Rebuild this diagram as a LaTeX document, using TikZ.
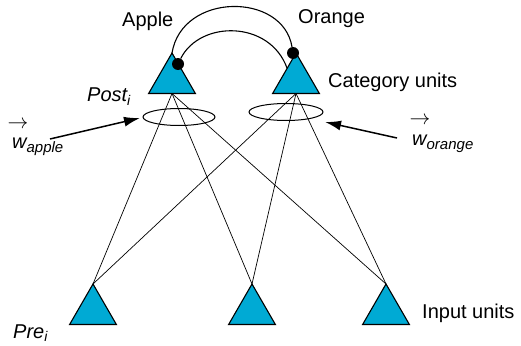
\documentclass[tikz,border=0pt]{standalone}
\usepackage{fontspec}
\setmainfont{Liberation Sans}
\usetikzlibrary{shapes.geometric,arrows.meta,calc}
\definecolor{unitblue}{RGB}{0,170,212}
\begin{document}
\begin{tikzpicture}[x=1pt,y=-1pt,
  unit/.style={regular polygon,regular polygon sides=3,minimum size=54pt,inner sep=0pt,outer sep=0pt,draw=black,line width=1.1pt,fill=unitblue},
  dot/.style={circle,fill=black,minimum size=12pt,inner sep=0pt},
  conn/.style={line width=0.7pt},
  arcline/.style={line width=1.1pt},
  ring/.style={draw,ellipse,line width=1pt,minimum width=72pt,minimum height=17pt,inner sep=0pt},
  warrow/.style={line width=1.5pt,-{Latex[length=16pt,width=10pt]}},
  lbl/.style={font=\fontsize{20}{24}\selectfont,inner sep=0pt,anchor=base west}]
\useasboundingbox (0,0) rectangle (521,345);
% units
\node[unit] (apple) at (172,80) {};
\node[unit] (orange) at (296,80) {};
\node[unit] (in1) at (93,311) {};
\node[unit] (in2) at (252,311) {};
\node[unit] (in3) at (386,311) {};
\foreach \s in {apple,orange}{
  \foreach \t in {in1,in2,in3}{
    \draw[conn] (\s.side 2) -- (\t.corner 1);
  }
}
\node[ring] (aell) at (179,117) {};
\node[ring,minimum width=74pt] (oell) at (286,112) {};
\node[dot] (adot) at (178,64) {};
\node[dot] (odot) at (293,53) {};
\coordinate (oedge) at ($(orange.corner 1)!0.38!(orange.corner 2)$);
\draw[arcline] (apple.corner 1) .. controls (182,-8) and (283,-8) .. (odot);
\draw[arcline] (adot) .. controls (200,20) and (270,20) .. (oedge);
% arrows
\coordinate (wastart) at (50,139);
\coordinate (watip) at (140,118);
\coordinate (wostart) at (397,138);
\coordinate (wotip) at (325,122);
\draw[warrow] (wastart) -- (watip);
\draw[warrow] (wostart) -- (wotip);
% labels
\node[lbl] (tapple) at (122,26.5) {Apple};
\node[lbl] (torange) at (298,24) {Orange};
\node[lbl] (tcat) at (328,87) {Category units};
\node[lbl] (tpost) at (87,101.5) {\itshape Post\raisebox{-4pt}{\fontsize{14}{16}\selectfont i}};
\node[lbl,anchor=center] (varr1) at (18,125) {$\rightarrow$};
\node[lbl] (twa) at (12,148) {\itshape w\raisebox{-4pt}{\fontsize{15}{18}\selectfont apple}};
\node[lbl,anchor=center] (varr2) at (420,121) {$\rightarrow$};
\node[lbl] (two) at (412,145) {\itshape w\raisebox{-4pt}{\fontsize{15}{18}\selectfont orange}};
\node[lbl] (tin) at (422,318) {Input units};
\node[lbl] (tpre) at (13,338.5) {\itshape Pre\raisebox{-2.5pt}{\fontsize{14}{16}\selectfont i}};
\end{tikzpicture}
\end{document}
